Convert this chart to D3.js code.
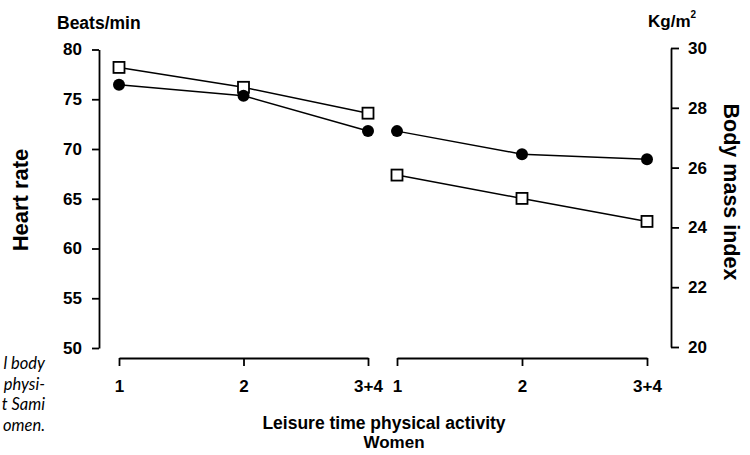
<html>
<script src="https://cdn.jsdelivr.net/npm/d3@7"></script>
<style>
body { margin: 0; background: white; }
text { font-family: Arial, "Liberation Sans", Helvetica, sans-serif; font-weight: bold; fill: black; }
.axis path, .axis line { stroke: black; stroke-width: 1.8; }
.axis text { font-size: 17px; }
.caption { font-family: Lato, "Open Sans", sans-serif; font-style: italic; font-weight: normal; font-size: 16.5px; }
</style>
<body></body>
<script>
// activity groups on the x axis (same for both panels)
var categories = ["1", "2", "3+4"];
// heart rate panel (beats/min)
var heartFilled = [76.45, 75.35, 71.8];
var heartOpen = [78.2, 76.2, 73.6];
// body mass index panel (kg/m2)
var bmiFilled = [27.22, 26.45, 26.28];
var bmiOpen = [25.75, 24.97, 24.2];
var heartTicks = [50, 55, 60, 65, 70, 75, 80];
var bmiTicks = [20, 22, 24, 26, 28, 30];
var captionLines = ["l body", "physi-", "t Sami", "omen."];

var W = 750, H = 455;
var svg = d3.select("body").append("svg").attr("width", W).attr("height", H);

var yHeart = d3.scaleLinear().domain([50, 80]).range([348, 49.5]);
var yBmi = d3.scaleLinear().domain([20, 30]).range([347, 48]);
var xLeft = d3.scalePoint().domain(categories).range([119, 368]);
var xRight = d3.scalePoint().domain(categories).range([397, 647]);

// axes
svg.append("g").attr("class", "axis").attr("transform", "translate(99,0)")
	.call(d3.axisLeft(yHeart).tickValues(heartTicks).tickSize(7).tickSizeOuter(0).tickPadding(10));
svg.append("g").attr("class", "axis").attr("transform", "translate(671,0)")
	.call(d3.axisRight(yBmi).tickValues(bmiTicks).tickSize(8).tickSizeOuter(0).tickPadding(9));
svg.append("g").attr("class", "axis").attr("transform", "translate(0,358)")
	.call(d3.axisBottom(xLeft).tickSize(8).tickSizeOuter(0).tickPadding(14));
svg.append("g").attr("class", "axis").attr("transform", "translate(0,358)")
	.call(d3.axisBottom(xRight).tickSize(8).tickSizeOuter(0).tickPadding(14));
svg.selectAll(".axis .domain").attr("fill", "none");

var line = function(x, y) {
	return d3.line().x(function(d, i) { return x(categories[i]); }).y(function(d) { return y(d); });
};

function series(vals, x, y, filled) {
	svg.append("path").datum(vals).attr("d", line(x, y))
		.attr("fill", "none").attr("stroke", "black").attr("stroke-width", 1.5);
	if (filled) {
		svg.selectAll(null).data(vals).enter().append("circle")
			.attr("cx", function(d, i) { return x(categories[i]); })
			.attr("cy", function(d) { return y(d); })
			.attr("r", 6).attr("fill", "black");
	} else {
		svg.selectAll(null).data(vals).enter().append("rect")
			.attr("x", function(d, i) { return x(categories[i]) - 5.5; })
			.attr("y", function(d) { return y(d) - 5.5; })
			.attr("width", 11).attr("height", 11)
			.attr("fill", "white").attr("stroke", "black").attr("stroke-width", 1.8);
	}
}

series(heartOpen, xLeft, yHeart, false);
series(heartFilled, xLeft, yHeart, true);
series(bmiOpen, xRight, yBmi, false);
series(bmiFilled, xRight, yBmi, true);

// titles
svg.append("text").attr("x", 57).attr("y", 29).style("font-size", "17.5px").text("Beats/min");
var kg = svg.append("text").attr("x", 648).attr("y", 27).style("font-size", "17px");
kg.append("tspan").text("Kg/m");
kg.append("tspan").attr("dy", -9).style("font-size", "10px").text("2");

svg.append("text").attr("transform", "translate(28,200) rotate(-90)")
	.attr("text-anchor", "middle").style("font-size", "22px").text("Heart rate");
svg.append("text").attr("transform", "translate(724,192) rotate(90)")
	.attr("text-anchor", "middle").style("font-size", "21.5px").text("Body mass index");

svg.append("text").attr("x", 384).attr("y", 429).attr("text-anchor", "middle")
	.style("font-size", "17.5px").text("Leisure time physical activity");
svg.append("text").attr("x", 394).attr("y", 448).attr("text-anchor", "middle")
	.style("font-size", "17px").text("Women");

// cropped caption on the left
svg.selectAll(".caption").data(captionLines).enter().append("text")
	.attr("class", "caption")
	.attr("x", 45).attr("y", function(d, i) { return 369 + i * 20.7; })
	.attr("text-anchor", "end")
	.text(function(d) { return d; });
</script>
</html>
